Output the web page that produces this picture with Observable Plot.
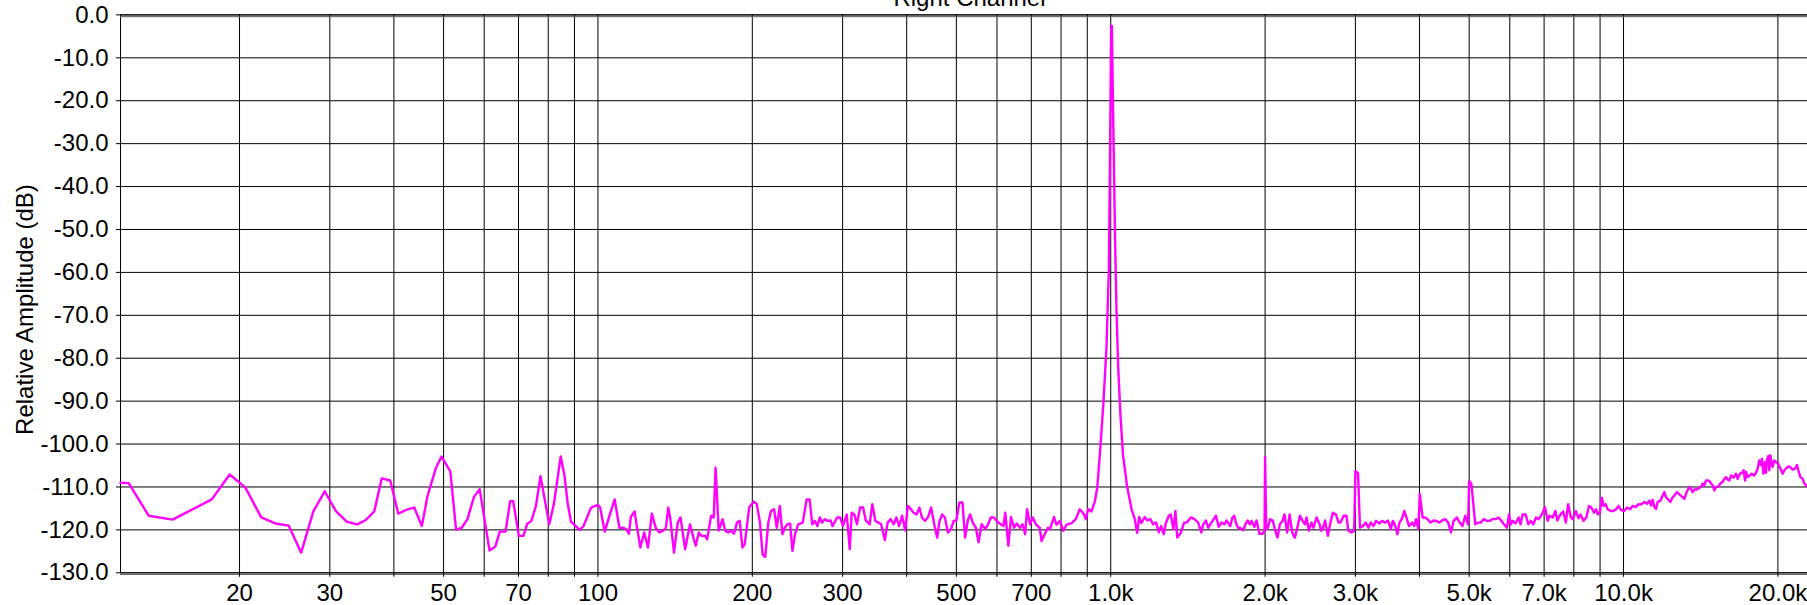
<!DOCTYPE html>
<html>
<head>
<meta charset="utf-8">
<script src="https://cdn.jsdelivr.net/npm/d3@7"></script>
<script src="https://cdn.jsdelivr.net/npm/@observablehq/plot@0.6"></script>
<style>
  html, body { margin: 0; padding: 0; background: #fff; overflow: hidden; }
</style>
</head>
<body>
<div id="chart"></div>
<script>
// ---- data ----
const chartTitle = "Right Channel";
const yLabel = "Relative Amplitude (dB)";

const freqHz = [
  11.72,12.16,13.30,14.81,17.66,19.13,20.52,22.05,23.48,24.94,26.38,27.86,29.32,30.86,32.38,33.93,35.27,36.62,37.88,39.35,
  40.79,42.34,43.83,45.35,46.52,48.30,49.55,51.54,52.89,54.26,55.66,57.31,58.79,61.46,63.06,64.36,66.04,67.42,68.35,70.10,
  71.56,72.78,74.16,75.69,77.26,80.36,82.04,84.60,86.06,87.24,88.60,92.14,93.74,96.98,100.0,
  101.0,103.1,105.5,107.8,110.1,112.0,113.5,114.9,115.9,117.9,118.9,121.0,123.1,125.2,127.4,129.6,131.8,134.1,135.7,137.1,
  138.3,140.7,143.1,144.9,147.9,151.2,153.8,155.1,157.3,159.2,161.9,163.3,166.2,168.2,169.6,172.0,175.0,177.1,179.5,181.7,
  184.2,186.7,189.0,191.3,193.3,195.6,197.3,201.4,204.1,207.0,209.5,212.0,214.9,217.5,220.5,223.2,226.3,229.0,231.4,234.2,
  237.0,239.5,242.3,245.7,250.8,255.2,258.7,261.8,265.0,267.7,271.0,273.3,277.1,280.4,284.3,286.8,292.7,296.8,300.4,305.6,
  309.8,312.5,316.2,320.0,324.5,329.0,332.9,338.7,342.8,347.5,352.3,356.6,362.7,367.2,372.2,377.4,381.9,386.6,391.9,397.3,
  402.1,407.7,412.6,418.3,423.3,428.4,434.4,440.3,446.4,453.4,458.8,463.6,469.2,474.9,481.4,488.1,494.0,500.0,506.8,513.9,
  520.0,526.3,531.8,538.2,545.7,552.3,560.0,569.6,576.5,583.6,591.6,599.8,607.0,617.5,622.8,631.4,639.0,647.9,655.7,664.8,
  672.8,680.9,686.7,696.2,704.6,714.4,726.7,733.0,743.0,754.6,
  761,775,784,796,808,820,839,855,870,884,894,904,917,931,941,952,967,981,991.5,996,
  1000,1002,1005,1011,1019,1026,1034,1045,1057,1076,1098,1114,1126,1136,1148,1165,
  1179,1195,1209,1226,1241,1254,1269,1280,1298,1309,1325,1337,1348,1371,1390,1407,1432,1456,1481,
  1502,1515,1533,1549,1568,1588,1604,1624,1644,1667,1681,1696,1711,1725,1741,1756,1771,1786,1812,1834,
  1850,1866,1882,1905,1925,1949,1976,1995,2000,2010,2025,2046,2071,2089,2115,2137,2163,2182,2208,2232,
  2259,2286,2311,2339,2367,2392,2409,2434,2464,2485,2520,2551,2573,2595,2618,2650,2678,2711,2748,2782,
  2806,2846,2881,2906,2947,2983,3000,3036,3062,3105,3143,3181,3215,3253,3293,3339,3380,3428,3470,3518,
  3549,3580,3623,3655,3693,3738,3772,3818,3871,3905,3939,3980,4005,4057,4100,4150,4201,4260,4312,4373,
  4426,4488,4551,4607,4663,4728,4795,4853,4912,4975,5000,5050,5139,5202,5266,5339,5415,5481,5547,5626,
  5704,5774,5845,5927,5978,6030,6082,6157,6244,6298,6353,6443,6521,6600,6669,6751,6834,6930,7027,7113,
  7175,7276,7365,7429,7534,7626,7718,7799,7894,7962,8074,8172,8243,8360,8461,8564,8656,8760,8837,8914,
  8993,9070,9149,9230,9311,9441,9557,9674,9775,9895,10033,10156,10297,10424,10552,10699,
  10816,10979,11111,11228,11312,11398,11483,11570,11656,11797,11921,12011,12102,12192,12340,12470,12562,12714,12848,12984,
  13139,13278,13438,13538,13640,13742,13908,14054,14160,14267,14374,14482,14591,14701,14811,14923,15034,15148,15308,15445,
  15608,15725,15843,15962,16082,16203,16398,16571,16695,16872,17023,17151,17254,17332,17461,17645,17778,17991,18127,18263,
  18400,18538,18622,18733,18874,18959,19044,19159,19245,19331,19448,19535,19682,19830,19979,20220,20434,20587,20742,20960,
  21213,21372,21597,21792,21923,22121,22353,22522,22691,22895,23300
];

const levelDb = [
  -109.0,-109.1,-116.7,-117.6,-112.9,-107.1,-110.1,-117.1,-118.5,-119.0,-125.3,-115.7,-111.0,-115.7,-118.1,-118.7,-117.7,-115.7,-108.0,-108.5,
  -116.2,-115.3,-114.8,-119.1,-112.1,-105.6,-102.9,-106.4,-120.0,-119.5,-117.5,-112.3,-110.5,-124.8,-123.9,-120.4,-120.4,-113.3,-113.3,-121.4,
  -121.4,-118.6,-117.9,-114.4,-107.5,-118.7,-114.0,-102.9,-107.4,-113.6,-118.1,-120.0,-119.1,-114.8,-114.2,
  -114.8,-120.4,-116.4,-112.9,-119.5,-119.5,-119.8,-120.9,-117.0,-115.7,-118.7,-124.1,-120.6,-124.1,-116.2,-119.5,-120.6,-120.2,-119.5,-114.8,
  -117.1,-125.3,-118.3,-117.1,-124.5,-118.7,-122.2,-123.7,-120.6,-121.4,-121.4,-122.2,-116.7,-117.1,-105.5,-120.2,-117.5,-120.2,-120.6,-120.2,
  -120.9,-118.3,-117.9,-124.1,-123.3,-118.3,-114.7,-113.4,-114.0,-118.3,-125.8,-126.3,-118.3,-115.6,-115.2,-119.5,-114.4,-121.0,-119.5,-118.7,
  -118.5,-124.9,-121.0,-118.7,-118.3,-112.9,-112.9,-118.7,-117.9,-119.1,-117.1,-118.3,-117.5,-117.9,-117.8,-119.1,-117.1,-117.1,-119.1,-116.4,
  -124.5,-116.0,-116.4,-118.7,-114.8,-114.8,-117.8,-118.7,-114.0,-117.9,-118.3,-118.7,-122.4,-118.3,-117.5,-118.7,-117.1,-119.1,-116.7,-120.1,
  -114.4,-115.2,-116.0,-116.4,-114.8,-117.1,-117.9,-117.0,-114.8,-119.1,-121.8,-117.9,-116.4,-117.1,-120.6,-119.8,-117.9,-117.8,-113.6,-113.6,
  -121.8,-117.8,-116.4,-118.3,-119.5,-122.9,-118.7,-119.8,-118.7,-117.1,-117.1,-117.9,-118.5,-119.1,-116.0,-123.7,-117.0,-119.5,-118.5,-119.5,
  -118.7,-121.0,-115.2,-118.7,-117.1,-118.7,-119.5,-122.6,-121.0,-119.5,
  -119.8,-117.0,-118.8,-117.9,-120.2,-118.8,-118.4,-117.5,-115.2,-116.1,-117.5,-115.2,-115.7,-113.4,-110.3,-102.7,-91.0,-77.5,-59.5,-37.1,
  -14.6,-2.6,-2.6,-23.6,-50.5,-68.5,-82.0,-93.7,-102.7,-109.8,-115.2,-117.5,-120.7,-117.0,-118.4,-117.0,
  -117.8,-117.5,-118.7,-118.3,-120.6,-119.1,-121.0,-118.5,-116.7,-116.4,-119.8,-115.6,-121.8,-120.6,-118.3,-118.3,-117.1,-117.5,-118.3,
  -120.6,-118.7,-117.8,-119.5,-118.5,-117.5,-116.7,-119.3,-118.3,-118.7,-117.8,-118.5,-119.1,-117.3,-116.7,-118.5,-119.5,-119.5,-120.1,-118.5,
  -117.8,-118.7,-117.9,-119.3,-117.8,-120.9,-120.9,-120.2,-103.0,-119.8,-119.5,-117.5,-117.9,-119.8,-121.8,-118.7,-117.9,-116.4,-120.6,-116.4,
  -120.6,-121.8,-119.5,-116.7,-117.9,-118.7,-117.1,-120.2,-118.3,-119.5,-117.1,-118.5,-120.2,-119.5,-117.8,-121.4,-118.7,-116.0,-116.4,-118.3,
  -118.3,-116.7,-116.7,-120.2,-120.6,-120.2,-106.3,-106.8,-119.5,-119.1,-118.3,-119.5,-118.3,-119.1,-117.9,-118.5,-117.9,-118.3,-117.8,-119.8,
  -117.9,-118.7,-121.0,-118.3,-117.5,-115.6,-117.1,-119.1,-118.3,-119.1,-117.5,-119.8,-111.6,-117.1,-117.1,-117.5,-118.3,-117.8,-117.9,-118.3,
  -117.8,-117.5,-118.3,-120.6,-117.9,-117.1,-118.3,-119.1,-116.7,-118.7,-108.6,-109.3,-118.7,-118.3,-118.3,-117.5,-117.9,-117.9,-117.5,-117.5,
  -117.1,-117.8,-118.7,-119.5,-116.4,-118.7,-117.9,-118.5,-117.1,-118.7,-116.4,-116.4,-118.7,-117.9,-118.7,-117.1,-117.5,-116.4,-114.7,-117.9,
  -116.7,-117.1,-115.6,-117.8,-116.4,-115.7,-118.3,-114.0,-117.1,-117.5,-115.6,-117.3,-116.4,-117.9,-117.1,-114.4,-114.8,-116.0,-115.2,-116.4,
  -116.0,-112.5,-114.4,-114.0,-115.2,-115.6,-115.6,-115.2,-114.4,-115.4,-115.6,-114.8,-115.2,-114.4,-114.7,-114.0,
  -114.1,-113.5,-113.9,-113.2,-114.3,-113.0,-114.7,-115.1,-113.5,-113.2,-112.0,-111.2,-112.4,-112.8,-113.5,-112.4,-112.0,-111.2,-111.7,-112.2,
  -112.8,-111.2,-110.0,-110.4,-111.2,-110.6,-110.6,-110.2,-110.0,-109.2,-109.6,-108.5,-108.5,-108.6,-109.2,-109.6,-110.8,-110.0,-109.9,-109.2,
  -108.8,-108.1,-107.7,-108.3,-108.5,-107.3,-107.8,-106.9,-108.1,-106.9,-106.7,-106.1,-108.5,-106.5,-107.7,-107.3,-106.9,-107.3,-106.7,-105.7,
  -103.8,-104.9,-103.4,-106.9,-104.2,-106.7,-103.6,-102.8,-106.1,-102.6,-104.5,-105.3,-103.8,-104.2,-104.4,-105.7,-106.9,-106.1,-105.7,-105.2,
  -105.5,-106.0,-105.7,-104.9,-106.1,-107.7,-108.1,-109.2,-109.6,-110.0,-111.0
];

const yTicks = [0,-10,-20,-30,-40,-50,-60,-70,-80,-90,-100,-110,-120,-130];
const xGrid = [20,30,40,50,60,70,80,90,100,200,300,400,500,600,700,800,900,
               1000,2000,3000,4000,5000,6000,7000,8000,9000,10000,20000];
const xLabelValues = [20,30,50,70,100,200,300,500,700,1000,2000,3000,5000,7000,10000,20000];
const xDomain = [11.72, 24000];
const yDomain = [-130, 0];

// ---- build ----
const data = freqHz.map((f, i) => ({f, db: levelDb[i]}));
const fmtX = d => xLabelValues.includes(d) ? (d >= 1000 ? (d / 1000).toFixed(1) + "k" : String(d)) : "";

const chart = Plot.plot({
  width: 1818,
  height: 605,
  marginLeft: 120,
  marginRight: 0,
  marginTop: 14.4,
  marginBottom: 32.7,
  style: {
    background: "#fff",
    maxWidth: "none",
    fontFamily: "'Liberation Sans', Arial, sans-serif",
    fontSize: "24px",
    color: "#000"
  },
  x: {type: "log", domain: xDomain},
  y: {domain: yDomain},
  marks: [
    Plot.gridX(xGrid, {stroke: "#000", strokeOpacity: 1, strokeWidth: 1}),
    Plot.gridY(yTicks, {stroke: "#000", strokeOpacity: 1, strokeWidth: 1}),
    Plot.frame({stroke: "#000"}),
    Plot.ruleY([0], {dy: 1.8, stroke: "#555"}),
    Plot.ruleY([-130], {dy: 1.6, stroke: "#555"}),
    Plot.axisY(yTicks, {
      tickFormat: d => d.toFixed(1),
      tickSize: 4, tickPadding: 8, fontSize: 24, label: null
    }),
    Plot.axisX(xGrid, {
      tickFormat: fmtX, tickSize: 4.5, tickPadding: 6.5, fontSize: 24, label: null
    }),
    Plot.line(data, {x: "f", y: "db", stroke: "#ff00ff", strokeWidth: 2.4}),
    Plot.text([chartTitle], {
      frameAnchor: "top", dy: -9.4, lineAnchor: "bottom", fontSize: 24, fill: "#000"
    }),
    Plot.text([yLabel], {
      frameAnchor: "left", dx: -94.7, dy: 15.7, rotate: -90,
      textAnchor: "middle", lineAnchor: "middle", fontSize: 24, fill: "#000"
    })
  ]
});
document.getElementById("chart").appendChild(chart);
</script>
</body>
</html>
